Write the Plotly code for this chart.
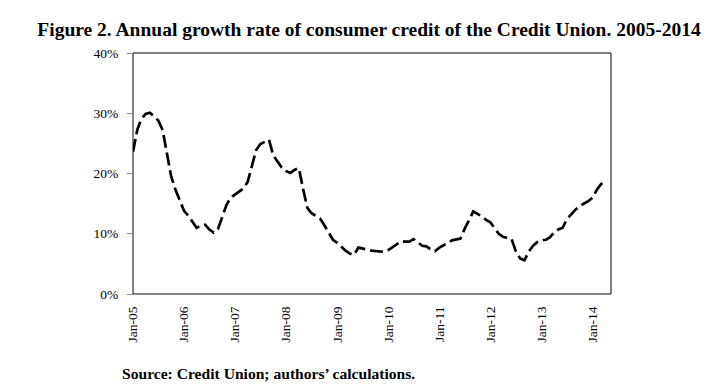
import plotly.graph_objects as go
import pandas as pd

# Annual growth rate (%) of consumer credit, monthly from Jan-2005
growth_pct = [
    23.6, 27.3, 29.0, 29.9, 30.1, 29.5, 28.8, 27.2, 23.0, 19.5, 17.3, 15.5,
    13.8, 13.0, 12.1, 11.0, 11.3, 11.5, 10.7, 10.2, 10.8, 12.6, 14.8, 16.0,
    16.5, 17.0, 17.5, 18.6, 21.1, 23.9, 24.9, 25.3, 25.6, 23.0, 21.9, 21.0,
    20.4, 20.1, 20.6, 20.9, 17.5, 14.3, 13.4, 13.0, 12.5, 11.4, 10.1, 9.0,
    8.5, 7.8, 7.2, 6.7, 6.5, 7.7, 7.6, 7.4, 7.2, 7.1, 7.0, 7.0,
    7.3, 7.8, 8.3, 8.7, 8.7, 8.7, 9.1, 8.6, 8.0, 7.9, 7.4, 7.1,
    7.7, 8.1, 8.4, 8.9, 9.1, 9.2, 10.8, 12.3, 13.7, 13.3, 12.9, 12.3,
    11.9, 10.9, 10.0, 9.5, 9.3, 9.1, 7.1, 5.9, 5.6, 7.0, 8.0, 8.6,
    8.9, 9.0, 9.4, 10.2, 10.7, 11.0, 12.4, 13.3, 14.0, 14.6, 15.0, 15.4,
    16.0, 17.3, 18.2, 18.8,
]
months = pd.date_range("2005-01-01", periods=len(growth_pct), freq="MS")
y_ticks = [0, 10, 20, 30, 40]
y_labels = ["0%", "10%", "20%", "30%", "40%"]

title_text = "Figure 2. Annual growth rate of consumer credit of the Credit Union. 2005-2014"
source_text = "Source: Credit Union; authors\u2019 calculations."

serif = "Liberation Serif, Times New Roman, serif"

# page has an 8px body margin; figure coords = page coords - 8
OFF = 8
W, H = 722, 390
pl, pr, pt, pb = 133 - OFF, 611 - OFF, 53 - OFF, 294 - OFF
pw, ph = pr - pl, pb - pt

fig = go.Figure()
fig.add_trace(go.Scatter(
    x=months, y=growth_pct, mode="lines",
    line=dict(color="black", width=2.7, dash="13px,5px"),
    showlegend=False, hoverinfo="skip",
))

fig.update_layout(
    width=W, height=H,
    margin=dict(l=pl, r=W - pr, t=pt, b=H - pb),
    paper_bgcolor="white", plot_bgcolor="white",
    font=dict(family=serif, color="black", size=13),
    title=dict(text="<b>" + title_text + "</b>", x=(369 - OFF) / W, xanchor="center",
               y=1 - (29 - OFF) / H, yanchor="middle",
               font=dict(family=serif, size=19.5, color="black")),
    xaxis=dict(
        type="date",
        range=["2005-01-01", "2014-05-13"],
        dtick="M12", tick0="2005-01-01", tickformat="%b-%y",
        tickangle=-90, showgrid=False, zeroline=False,
        showline=True, linecolor="#888888", linewidth=1,
        ticks="", ticklabelstandoff=6,
        tickfont=dict(family=serif, size=13.5, color="black"),
    ),
    yaxis=dict(
        range=[0, 40], tickvals=y_ticks, ticktext=y_labels,
        showgrid=False, zeroline=False,
        showline=True, linecolor="#888888", linewidth=1,
        ticks="outside", ticklen=5, tickcolor="#888888",
        ticklabelstandoff=6,
        tickfont=dict(family=serif, size=13.5, color="black"),
    ),
)

# black border on top/right of plot area
fig.add_shape(type="rect", xref="paper", yref="paper", x0=0, y0=0, x1=1, y1=1,
              line=dict(color="black", width=1), layer="below")

fig.add_annotation(text="<b>" + source_text + "</b>", xref="paper", yref="paper",
                   x=(120 - 133) / pw, y=-(373 - 294) / ph,
                   xanchor="left", yanchor="middle", showarrow=False,
                   font=dict(family=serif, size=15.6, color="black"))

fig.write_html("out.html")
